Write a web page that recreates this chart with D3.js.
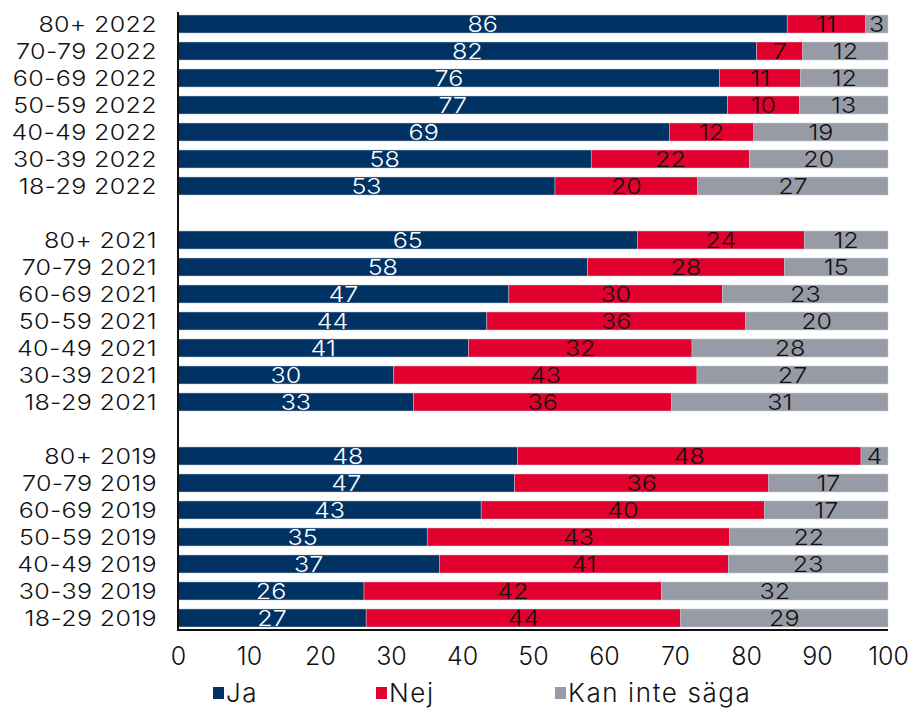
<!DOCTYPE html>
<html>
<head>
<meta charset="utf-8">
<script src="https://cdn.jsdelivr.net/npm/d3@7"></script>
<style>
   body { margin: 0; background: #fff; }
   #chart { width: 914px; height: 709px; }
   text { font-family: "Inter", "Noto Sans", sans-serif; font-weight: 300; fill: #111; }
</style>
</head>
<body>
<div id="chart"></div>
<script>
// Categories, top to bottom within each year
const ageGroups = ["80+", "70-79", "60-69", "50-59", "40-49", "30-39", "18-29"];
const years = ["2022", "2021", "2019"];
const seriesNames = ["Ja", "Nej", "Kan inte säga"];
const seriesColors = ["#003263", "#e2002e", "#979ba5"];
const labelColors = ["#ffffff", "#111111", "#111111"];

// Values per year, in ageGroups order (labels are the rounded numbers)
const ja2022 = [85.8, 81.5, 76.3, 77.4, 69.2, 58.2, 53.1];
const nej2022 = [11.0, 6.5, 11.4, 10.1, 11.9, 22.3, 20.1];
const kan2022 = [3.2, 12.0, 12.3, 12.5, 18.9, 19.5, 26.8];

const ja2021 = [64.7, 57.7, 46.6, 43.5, 40.9, 30.4, 33.2];
const nej2021 = [23.5, 27.7, 30.1, 36.4, 31.5, 42.7, 36.3];
const kan2021 = [11.8, 14.6, 23.3, 20.1, 27.6, 26.9, 30.5];

const ja2019 = [47.8, 47.4, 42.7, 35.1, 36.8, 26.2, 26.5];
const nej2019 = [48.4, 35.8, 39.9, 42.6, 40.7, 41.9, 44.3];
const kan2019 = [3.8, 16.8, 17.4, 22.3, 22.5, 31.9, 29.2];

const xTicks = [0, 10, 20, 30, 40, 50, 60, 70, 80, 90, 100];

const valuesByYear = {
   "2022": [ja2022, nej2022, kan2022],
   "2021": [ja2021, nej2021, kan2021],
   "2019": [ja2019, nej2019, kan2019]
};

// Build rows plus empty slots between the year groups
const rows = [];
const slots = [];
years.forEach((year, yi) => {
   if (yi > 0) slots.push("gap" + yi);
   ageGroups.forEach((age, ai) => {
      const key = age + " " + year;
      slots.push(key);
      const vals = valuesByYear[year].map(s => s[ai]);
      let acc = 0;
      const segs = vals.map((v, si) => {
         const seg = { series: si, x0: acc, x1: acc + v, value: v };
         acc += v;
         return seg;
      });
      rows.push({ key: key, segs: segs });
   });
});

const width = 914, height = 709;
const margin = { left: 178, right: 26 };
const stretch = 1.14; // wide glyphs, like the original typeface

const svg = d3.select("#chart").append("svg")
   .attr("width", width)
   .attr("height", height);

const x = d3.scaleLinear().domain([0, 100]).range([margin.left, width - margin.right]);
const y = d3.scaleBand().domain(slots).range([10.5, 631.5]).paddingInner(0.333).paddingOuter(0.167);

// Bars
const rowG = svg.append("g").attr("class", "bars")
   .selectAll("g")
   .data(rows)
   .enter()
   .append("g")
   .attr("transform", d => "translate(0," + y(d.key) + ")");

rowG.selectAll("rect")
   .data(d => d.segs)
   .enter()
   .append("rect")
   .attr("x", d => x(d.x0))
   .attr("width", d => x(d.x1) - x(d.x0))
   .attr("height", y.bandwidth())
   .attr("fill", d => seriesColors[d.series])
   .attr("stroke", "#c3c8d0")
   .attr("stroke-width", 0.5);

// Value labels
rowG.selectAll("text")
   .data(d => d.segs)
   .enter()
   .append("text")
   .attr("transform", d => "translate(" + x((d.x0 + d.x1) / 2) + "," + (y.bandwidth() / 2) + ") scale(" + stretch + ",1)")
   .attr("dy", "0.36em")
   .attr("text-anchor", "middle")
   .style("font-size", "22px")
   .style("fill", d => labelColors[d.series])
   .text(d => Math.round(d.value));

// Category labels
svg.append("g").attr("class", "y-labels")
   .selectAll("text")
   .data(rows)
   .enter()
   .append("text")
   .attr("transform", d => "translate(157," + (y(d.key) + y.bandwidth() / 2) + ") scale(" + stretch + ",1)")
   .attr("dy", "0.36em")
   .attr("text-anchor", "end")
   .style("font-size", "22px")
   .style("letter-spacing", "0.3px")
   .text(d => d.key);

// Axis lines
svg.append("line")
   .attr("x1", margin.left).attr("x2", margin.left)
   .attr("y1", 12).attr("y2", 631)
   .attr("stroke", "#111").attr("stroke-width", 2);
svg.append("line")
   .attr("x1", margin.left - 1).attr("x2", x(100))
   .attr("y1", 630).attr("y2", 630)
   .attr("stroke", "#111").attr("stroke-width", 2);

// X tick labels
const xAxis = d3.axisBottom(x).tickValues(xTicks).tickSize(0).tickPadding(0);
const xAxisG = svg.append("g")
   .attr("class", "bottom-x-axis")
   .attr("transform", "translate(0,647)")
   .call(xAxis);
xAxisG.select(".domain").remove();
xAxisG.selectAll("text")
   .style("font-size", "25px")
   .style("font-family", "Inter, 'Noto Sans', sans-serif")
   .style("font-weight", 300)
   .attr("fill", "#111");

// Legend
const legendX = [213, 376, 555];
const legend = svg.append("g").attr("class", "legend")
   .selectAll("g")
   .data(seriesNames)
   .enter()
   .append("g")
   .attr("transform", (d, i) => "translate(" + legendX[i] + ",687)");
legend.append("rect")
   .attr("width", 11).attr("height", 12)
   .attr("fill", (d, i) => seriesColors[i]);
legend.append("text")
   .attr("x", 13).attr("y", 6)
   .attr("dy", "0.34em")
   .style("font-size", "26px")
   .style("letter-spacing", "1.6px")
   .text(d => d);
</script>
</body>
</html>
